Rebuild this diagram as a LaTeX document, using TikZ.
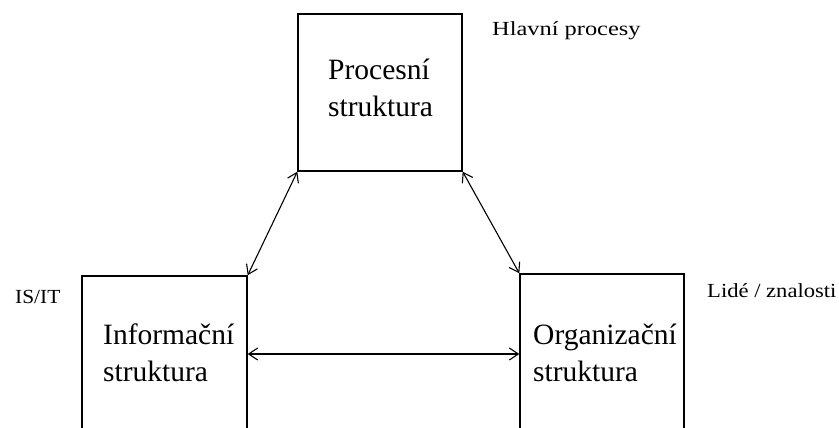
\documentclass[tikz,border=0pt]{standalone}
\usepackage{fontspec}
\usepackage{graphicx}
\setmainfont{Liberation Serif}
\usetikzlibrary{arrows.meta}

\tikzset{
  box/.style={draw=black, line width=1.4pt, rectangle, inner sep=0pt},
  bigtext/.style={font=\fontsize{29.5}{37}\selectfont, align=left, anchor=base west, inner sep=0pt},
  smalltext/.style={font=\fontsize{20}{24}\selectfont, anchor=base west, inner sep=0pt},
  link/.style={line width=1.1pt, {Straight Barb[length=9pt,width=12pt]}-{Straight Barb[length=9pt,width=12pt]}}
}

\begin{document}
\begin{tikzpicture}[x=1pt, y=-1pt]
  \useasboundingbox (0,0) rectangle (839,428);
  \clip (0,0) rectangle (839,428);

  % the three structures
  \node[box, minimum width=164pt, minimum height=157pt] (proc) at (380,92.5) {};
  \node[box, minimum width=165pt, minimum height=156pt] (info) at (164.5,354) {};
  \node[box, minimum width=164pt, minimum height=158pt] (org) at (602,353) {};

  % box captions (anchored at the baseline of the last line)
  \node[bigtext] (proctext) at (328,117) {Procesní\\struktura};
  \node[bigtext] (infotext) at (103,381) {Informační\\struktura};
  \node[bigtext] (orgtext) at (533,381) {Organizační\\struktura};

  % side labels
  \node[smalltext] (hlavni) at (492,36) {\scalebox{1.22}[1]{Hlavní procesy}};
  \node[smalltext] (isit) at (15,303) {\scalebox{1.07}[1]{IS/IT}};
  \node[smalltext] (lide) at (707,297) {\scalebox{1.13}[1]{Lidé / znalosti}};

  % two-way links
  \draw[link] (proc.south west) -- (info.north east);
  \draw[link] (proc.south east) -- (org.north west);
  \draw[link] (info.east) -- (info.east -| org.west);
\end{tikzpicture}
\end{document}
